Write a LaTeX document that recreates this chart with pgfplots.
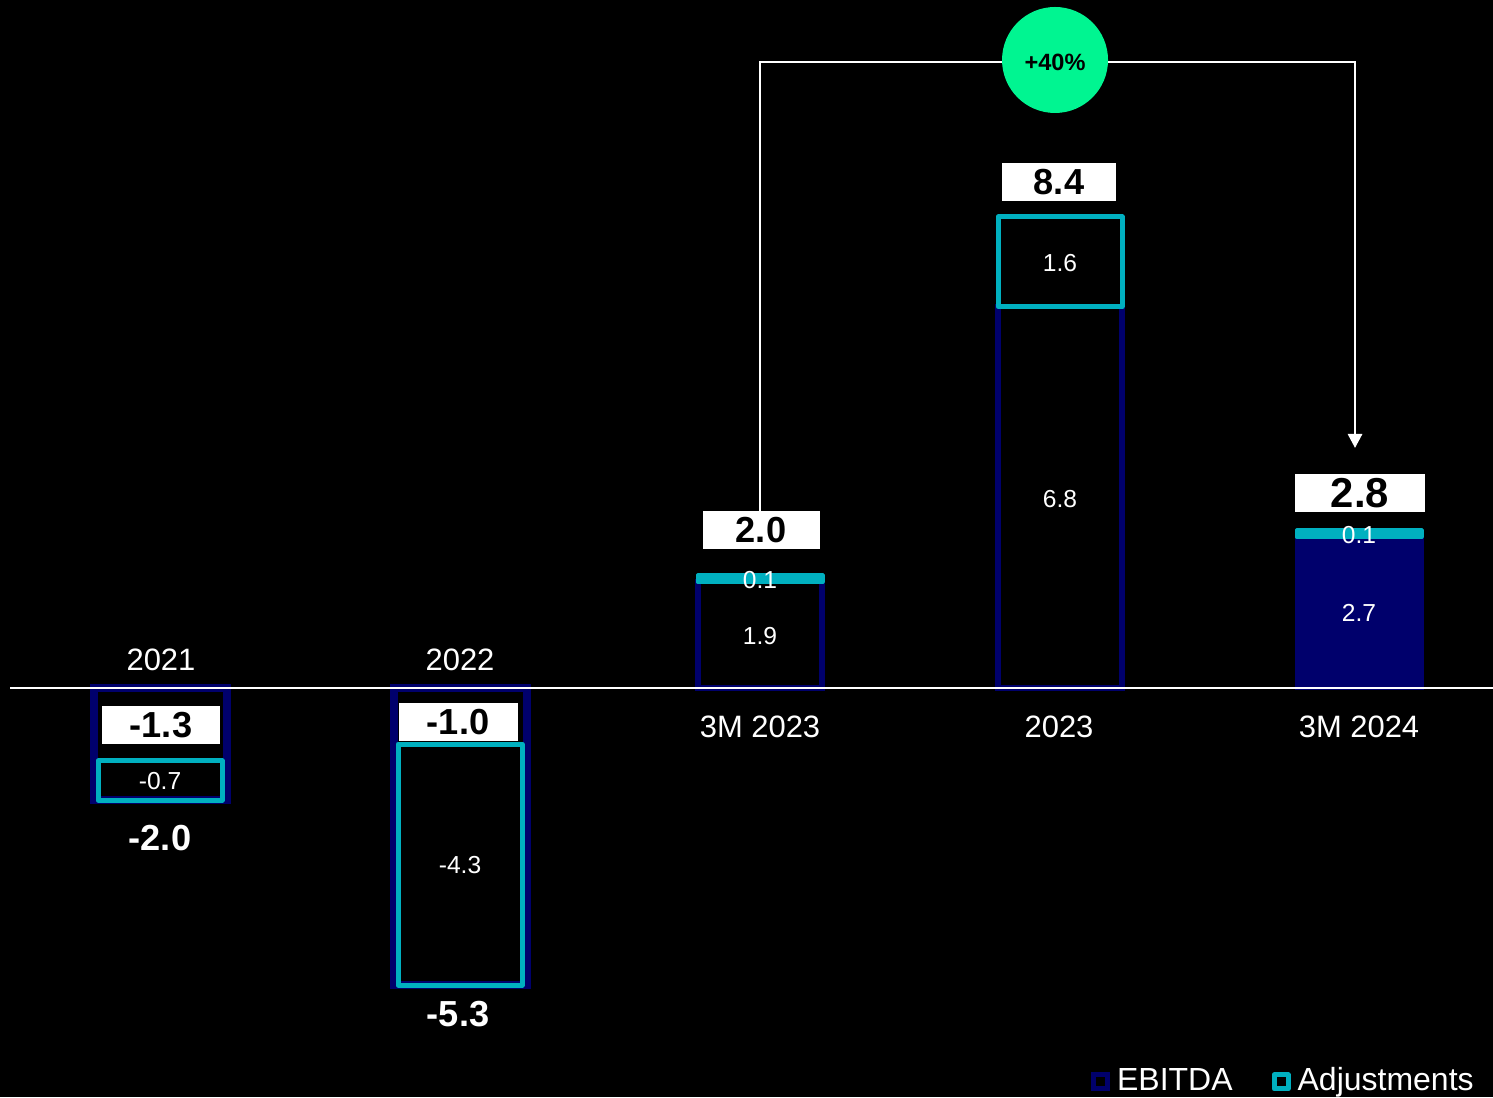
\documentclass[border=0pt]{standalone}
\usepackage{pgfplots}
\pgfplotsset{compat=1.18}
\usepackage{fontspec}
\setmainfont{Liberation Sans}
\usetikzlibrary{arrows.meta}
\definecolor{navyc}{RGB}{0,0,108}
\definecolor{tealc}{RGB}{0,176,192}
\definecolor{greenc}{RGB}{0,245,145}
\pgfplotsset{base/.style={width=149.3mm,height=109.7mm,scale only axis,
  xmin=0,xmax=1493,ymin=-7.2945,ymax=12.2704,axis lines=none,
  xtick=\empty,ytick=\empty,clip=false}}
\begin{document}
\begin{tikzpicture}
\fill[black] (0,0) rectangle (149.3mm,109.7mm);
% navy EBITDA outlines and fill
\begin{axis}[base, ybar]
\addplot[bar shift=0, fill=navyc, draw=navyc, line width=0.5mm, bar width=124] coordinates {(1359,2.7)};
\addplot[bar shift=0, fill=none, draw=navyc, line width=0.55mm, bar width=124] coordinates {(760,1.9) (1060,6.8)};
\addplot[bar shift=0, fill=none, draw=navyc, line width=0.8mm, bar width=133] coordinates {(160,-2.0) (460,-5.3)};
\end{axis}
% stacked EBITDA + Adjustments
\begin{axis}[base, ybar stacked, bar width=124,
  legend columns=2,
  legend style={at={(rel axis cs:0.7303,0.0137)}, anchor=west, draw=none, fill=none,
    text=white, font=\fontsize{9.1}{10}\selectfont, inner sep=0pt,
    /tikz/every even column/.append style={column sep=3.2mm}}]
\addplot[draw=none, fill=none,
  legend image code/.code={\draw[draw=navyc, line width=0.5mm, fill=black] (0mm,-0.7mm) rectangle (1.4mm,0.7mm);}]
  coordinates {(160,-1.3) (460,-1.0) (760,1.9) (1060,6.8) (1359,2.7)};
\addlegendentry{EBITDA}
\addplot[draw=tealc, fill=none, line width=0.5mm, line join=round,
  legend image code/.code={\draw[draw=tealc, line width=0.5mm, fill=black] (0mm,-0.7mm) rectangle (1.4mm,0.7mm);}]
  coordinates {(160,-0.7) (460,-4.3) (760,0.1) (1060,1.6) (1359,0.1)};
\addlegendentry{Adjustments}
\end{axis}
% thin adjustment slices drawn filled
\begin{axis}[base, ybar stacked, bar width=124]
\addplot[draw=none, fill=none] coordinates {(760,1.9) (1359,2.7)};
\addplot[draw=tealc, fill=tealc, line width=0.5mm, line join=round] coordinates {(760,0.1) (1359,0.1)};
\end{axis}
\begin{scope}[shift={(0,109.7mm)}, x=0.1mm, y=-0.1mm,
  cat/.style={text=white, font=\fontsize{8.8}{10}\selectfont},
  val/.style={text=white, font=\fontsize{7}{8}\selectfont},
  tot/.style={fill=white, text=black, font=\bfseries\fontsize{10.3}{12}\selectfont, minimum height=3.8mm, inner sep=0pt},
  totw/.style={text=white, font=\bfseries\fontsize{10.3}{12}\selectfont}]
\draw[white, line width=0.22mm] (10,688) -- (1493,688);
\draw[white, line width=0.28mm, -{Triangle[width=1.4mm,length=1.4mm]}] (760,511) -- (760,62) -- (1355,62) -- (1355,448);
\fill[greenc] (1055,60) circle[radius=5.3mm];
\node[text=black, font=\bfseries\fontsize{6.7}{8}\selectfont] at (1055,62) {+40\%};
% category labels
\node[cat] at (161,660) {2021};
\node[cat] at (460,660) {2022};
\node[cat] at (760,727) {3M 2023};
\node[cat] at (1059,727) {2023};
\node[cat] at (1359,727) {3M 2024};
% segment values
\node[val] at (160,781) {-0.7};
\node[val] at (460,865) {-4.3};
\node[val] at (760,580) {0.1};
\node[val] at (760,636) {1.9};
\node[val] at (1060,263) {1.6};
\node[val] at (1060,499) {6.8};
\node[val] at (1359,535) {0.1};
\node[val] at (1359,613) {2.7};
% totals in white boxes
\node[tot, minimum width=11.8mm] at (161,725) {-1.3};
\node[tot, minimum width=11.9mm] at (458,722) {-1.0};
\node[tot, minimum width=11.7mm] at (761,530) {2.0};
\node[tot, minimum width=11.4mm] at (1059,182) {8.4};
\node[tot, minimum width=13.0mm, font=\bfseries\fontsize{11.9}{13}\selectfont] at (1360,493) {2.8};
% totals below negative bars
\node[totw] at (160,838) {-2.0};
\node[totw] at (458,1014) {-5.3};
\end{scope}
\pgfresetboundingbox
\useasboundingbox (0,0) rectangle (149.3mm,109.7mm);
\end{tikzpicture}
\end{document}
